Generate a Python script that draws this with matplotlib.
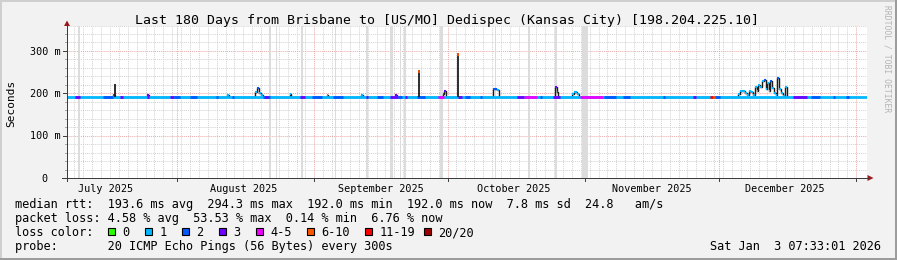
import datetime as dt
import matplotlib
matplotlib.use("Agg")
import matplotlib.pyplot as plt
import matplotlib.transforms as mtransforms
from matplotlib.patches import Rectangle, Polygon
from matplotlib.lines import Line2D

W, H = 897, 260
MONO = "DejaVu Sans Mono"

""" data """
END = dt.datetime(2026, 1, 3, 7, 33, 1)
SPAN_DAYS = 180
START = END - dt.timedelta(days=SPAN_DAYS)

TITLE = "Last 180 Days from Brisbane to [US/MO] Dedispec (Kansas City) [198.204.225.10]"
Y_LABEL = "Seconds"
WATERMARK = "RRDTOOL / TOBI OETIKER"
STAMP = "Sat Jan  3 07:33:01 2026"

MONTH_LABELS = ["July 2025", "August 2025", "September 2025",
                "October 2025", "November 2025", "December 2025"]
LABEL_DATES = ["2025-07-16", "2025-08-16", "2025-09-16",
               "2025-10-16", "2025-11-16", "2025-12-16"]
MONTH_FIRSTS = ["2025-08-01", "2025-09-01", "2025-10-01",
                "2025-11-01", "2025-12-01", "2026-01-01"]

Y_TICKS = [0, 100, 200, 300]
Y_TICK_LABELS = ["0  ", "100 m", "200 m", "300 m"]
Y_MAX = 360

BASELINE_MS = 192.0

LOSS_LABELS = ["0", "1", "2", "3", "4-5", "6-10", "11-19", "20/20"]
LOSS_COLORS = ["#26ff00", "#00b8ff", "#0059ff", "#7000ff",
               "#ee00ff", "#ff5500", "#ff0000", "#a10000"]

# loss colouring of the flat part of the median line (day offset, class)
LOSS_START = [1.8, 8.1, 11.9, 18.0, 23.2, 24.2, 27.7, 33.6, 37.2, 44.1,
              44.6, 52.5, 55.2, 59.9, 67.4, 69.8, 72.7, 74.5, 76.0, 78.8,
              83.6, 88.1, 89.6, 93.0, 101.4, 103.0, 106.5, 109.5, 115.5, 121.0,
              125.2, 134.2, 141.0, 144.8, 145.4, 146.0, 163.5, 167.5, 172.5, 175.3]
LOSS_END = [2.9, 10.4, 12.6, 18.4, 24.2, 25.5, 29.3, 34.0, 37.6, 45.7,
            45.2, 53.6, 57.4, 62.2, 67.8, 71.2, 74.5, 75.5, 76.6, 80.6,
            84.8, 89.0, 90.8, 93.5, 103.0, 105.9, 107.0, 111.0, 120.7, 123.5,
            126.8, 134.7, 141.6, 145.4, 145.9, 147.0, 166.7, 169.5, 173.0, 176.0]
LOSS_CLASS = [3, 2, 3, 3, 3, 2, 2, 2, 2, 2,
              3, 3, 2, 2, 3, 2, 3, 2, 3, 2,
              4, 3, 2, 2, 3, 4, 2, 3, 4, 2,
              2, 2, 3, 6, 5, 2, 3, 2, 2, 2]

# median excursions above the baseline (step points: day, ms, loss class)
EXC_DAY = [10.3, 10.9,
           18.0, 18.4,
           36.1, 36.4,
           42.3, 42.8, 43.2, 43.6, 44.2,
           50.1, 50.4,
           58.5, 58.8,
           66.2, 66.6,
           73.9, 74.4,
           84.6, 84.9, 85.3,
           95.8, 96.0, 96.9, 97.2,
           109.8, 110.3, 110.6,
           113.8, 114.2, 114.9, 115.2,
           151.1, 151.6, 152.3, 152.7, 153.2, 153.6, 154.1, 154.5, 155.0,
           155.4, 155.6, 156.1, 156.5, 157.0, 157.4, 157.7, 158.1, 158.3,
           158.8, 159.2, 159.7, 159.9, 160.4, 160.8, 161.3, 161.7, 162.2]
EXC_MS = [196, 192,
          196, 192,
          197, 192,
          204, 212, 201, 196, 192,
          198, 192,
          197, 192,
          197, 192,
          196, 192,
          199, 206, 192,
          207, 211, 207, 192,
          216, 204, 192,
          199, 202, 199, 192,
          198, 205, 206, 200, 196, 205, 203, 197, 214,
          205, 220, 215, 230, 232, 210, 224, 205, 228,
          212, 200, 196, 236, 210, 200, 194, 214, 192]
EXC_CLASS = [2, 1,
             3, 1,
             1, 1,
             1, 2, 1, 1, 1,
             1, 1,
             1, 1,
             1, 1,
             3, 1,
             3, 3, 1,
             1, 2, 1, 1,
             3, 3, 1,
             1, 1, 1, 1,
             1, 1, 1, 1, 1, 1, 1, 1, 1,
             1, 1, 1, 1, 2, 1, 1, 1, 2,
             1, 1, 1, 2, 1, 1, 1, 1, 1]

# single-interval spikes (day, ms, loss class of the tip, -1 = none)
SPIKE_DAY = [10.8, 79.3, 88.1]
SPIKE_MS = [222, 254, 294]
SPIKE_TIP = [-1, 5, 5]

# full-height smoke columns (day, width in days)
SMOKE_DAY = [2.7, 45.7, 47.1, 52.9, 60.4, 60.8, 67.6, 73.0, 75.0, 76.1,
             84.3, 96.4, 96.8, 104.1, 110.1, 116.7]
SMOKE_W = [0.25, 0.3, 0.25, 0.45, 0.2, 0.2, 0.35, 0.7, 0.25, 0.25,
           0.7, 0.2, 0.2, 0.45, 0.25, 1.3]

LEGEND_LINES = [
    "median rtt:  193.6 ms avg  294.3 ms max  192.0 ms min  192.0 ms now  7.8 ms sd  24.8   am/s",
    "packet loss: 4.58 % avg  53.53 % max  0.14 % min  6.76 % now",
]
PROBE_LINE = "probe:       20 ICMP Echo Pings (56 Bytes) every 300s"

""" style """
BACK = "#f2f2f2"
GRID = "#d2d2d2"
MGRID = "#eaa9a9"
AXIS = "#3c3c3c"
ARROW = "#9b1c1c"
SMOKE = "#dcdcdc"
DARK = "#1c1c1c"

L, R, T, B = 67, 866.5, 25.5, 178.0
CHAR = 7.15


def days(s):
    return (dt.datetime.fromisoformat(s) - START).total_seconds() / 86400


def fx(x):
    return x / W


def fy(y):
    return 1 - y / H


fig = plt.figure(figsize=(W / 100, H / 100), dpi=100, facecolor=BACK)
ax = fig.add_axes([fx(L), fy(B), (R - L) / W, (B - T) / H])
ax.set_xlim(0, SPAN_DAYS)
ax.set_ylim(0, Y_MAX)
ax.set_facecolor("white")
for s in ax.spines.values():
    s.set_visible(False)
ax.set_xticks([])
ax.set_yticks([])

pw, ph = R - L, B - T
firsts = [days(s) for s in MONTH_FIRSTS]

# grid
dotted = (0, (1, 1))
for v in range(20, Y_MAX + 1, 20):
    if v % 100:
        ax.axhline(v, color=GRID, lw=0.7, ls=dotted, zorder=1)
for v in Y_TICKS[1:]:
    ax.axhline(v, color=MGRID, lw=0.7, ls=dotted, zorder=1.2)
g = firsts[-1]
minor_x = []
while g > 0:
    if all(abs(g - f) > 0.5 for f in firsts):
        minor_x.append(g)
    g -= 2
for d in minor_x:
    ax.axvline(d, color=GRID, lw=0.7, ls=dotted, zorder=1)
for d in firsts:
    ax.axvline(d, color=MGRID, lw=0.7, ls=dotted, zorder=1.2)

# smoke columns
for d, w in zip(SMOKE_DAY, SMOKE_W):
    ax.axvspan(d - w / 2, d + w / 2, color=SMOKE, lw=0, zorder=2)

# median line
ax.step(EXC_DAY, EXC_MS, where="post", color=DARK, lw=1.0, zorder=3)
ax.hlines(BASELINE_MS, 0, SPAN_DAYS, color=LOSS_COLORS[1], lw=2.0, zorder=4)
ax.hlines([BASELINE_MS] * len(LOSS_START), LOSS_START, LOSS_END,
          colors=[LOSS_COLORS[c] for c in LOSS_CLASS], lw=2.0, zorder=4.1)
for i in range(len(EXC_DAY) - 1):
    if EXC_MS[i] > BASELINE_MS + 0.5:
        ax.hlines(EXC_MS[i], EXC_DAY[i], EXC_DAY[i + 1],
                  color=LOSS_COLORS[EXC_CLASS[i]], lw=1.5, zorder=5)
ax.vlines(SPIKE_DAY, BASELINE_MS, SPIKE_MS, color=DARK, lw=1.3, zorder=5)
for d, v, c in zip(SPIKE_DAY, SPIKE_MS, SPIKE_TIP):
    if c >= 0:
        ax.vlines(d, v - 5, v, color=LOSS_COLORS[c], lw=1.3, zorder=6)

# ticks
yt = ax.get_yaxis_transform()
xt = ax.get_xaxis_transform()
for v in range(20, Y_MAX, 20):
    major = v % 100 == 0
    ln = 4 if major else 2
    ax.plot([-ln / pw, 0], [v, v], transform=yt, clip_on=False,
            color=AXIS if major else "#a8a8a8", lw=0.7)
for d in firsts:
    ax.plot([d, d], [-3 / ph, 0], transform=xt, clip_on=False, color=AXIS, lw=0.7)

# tick labels
ylab_tr = mtransforms.offset_copy(yt, fig=fig, x=-6.5, y=-3.6, units="dots")
for v, lab in zip(Y_TICKS, Y_TICK_LABELS):
    ax.text(0, v, lab, transform=ylab_tr, ha="right", va="baseline",
            family=MONO, fontsize=7.3, color="black")
xlab_tr = mtransforms.offset_copy(xt, fig=fig, x=0, y=-13.5, units="dots")
for s, lab in zip(LABEL_DATES, MONTH_LABELS):
    ax.text(days(s), 0, lab, transform=xlab_tr, ha="center", va="baseline",
            family=MONO, fontsize=7.3, color="black")

# axes lines and arrows
fig.add_artist(Line2D([fx(62), fx(868)], [fy(B), fy(B)], color=AXIS, lw=0.72))
fig.add_artist(Line2D([fx(L), fx(L)], [fy(181), fy(22)], color=AXIS, lw=0.72))
fig.add_artist(Polygon([(fx(L - 3), fy(26)), (fx(L + 3), fy(26)), (fx(L), fy(20.5))],
                       closed=True, color=ARROW, lw=0))
fig.add_artist(Polygon([(fx(867.5), fy(B - 3)), (fx(867.5), fy(B + 3)), (fx(873.5), fy(B))],
                       closed=True, color=ARROW, lw=0))

# text
fig.text(fx(447), fy(24), TITLE, ha="center", va="baseline", family=MONO, fontsize=9.5)
fig.text(fx(11), fy(103.5), Y_LABEL, ha="center", va="center", rotation=90,
         family=MONO, fontsize=8)
fig.text(fx(887), fy(59), WATERMARK, ha="center", va="center", rotation=-90,
         family=MONO, fontsize=5.8, color="#b4b4b4")

x0 = 14.5
fig.text(fx(x0), fy(208.3), LEGEND_LINES[0], ha="left", va="baseline", family=MONO, fontsize=8.55)
fig.text(fx(x0), fy(222.3), LEGEND_LINES[1], ha="left", va="baseline", family=MONO, fontsize=8.55)
fig.text(fx(x0), fy(236), "loss color:", ha="left", va="baseline", family=MONO, fontsize=8.55)
bx = x0 + 13 * CHAR
for lab, col in zip(LOSS_LABELS, LOSS_COLORS):
    fig.add_artist(Rectangle((fx(bx + 0.5), fy(235)), 7 / W, 7.5 / H, transform=fig.transFigure,
                             facecolor=col, edgecolor="black", lw=0.8))
    fig.text(fx(bx + 15.5 - 0.5), fy(236), lab, ha="left", va="baseline", family=MONO, fontsize=8.55)
    bx += 15.5 + CHAR * min(len(lab), 4) + 2 * CHAR
fig.text(fx(x0), fy(250), PROBE_LINE, ha="left", va="baseline", family=MONO, fontsize=8.55)
fig.text(fx(881), fy(250), STAMP, ha="right", va="baseline", family=MONO, fontsize=8.55)

# 3d frame
fig.add_artist(Rectangle((0, fy(2)), 1, 2 / H, transform=fig.transFigure, color="#cfcfcf", lw=0))
fig.add_artist(Rectangle((0, 0), 2 / W, 1, transform=fig.transFigure, color="#cfcfcf", lw=0))
fig.add_artist(Rectangle((0, 0), 1, 2 / H, transform=fig.transFigure, color="#9c9c9c", lw=0))
fig.add_artist(Rectangle((fx(W - 2), 0), 2 / W, 1, transform=fig.transFigure, color="#9c9c9c", lw=0))

fig.savefig("out.png", dpi=100, facecolor=fig.get_facecolor())
